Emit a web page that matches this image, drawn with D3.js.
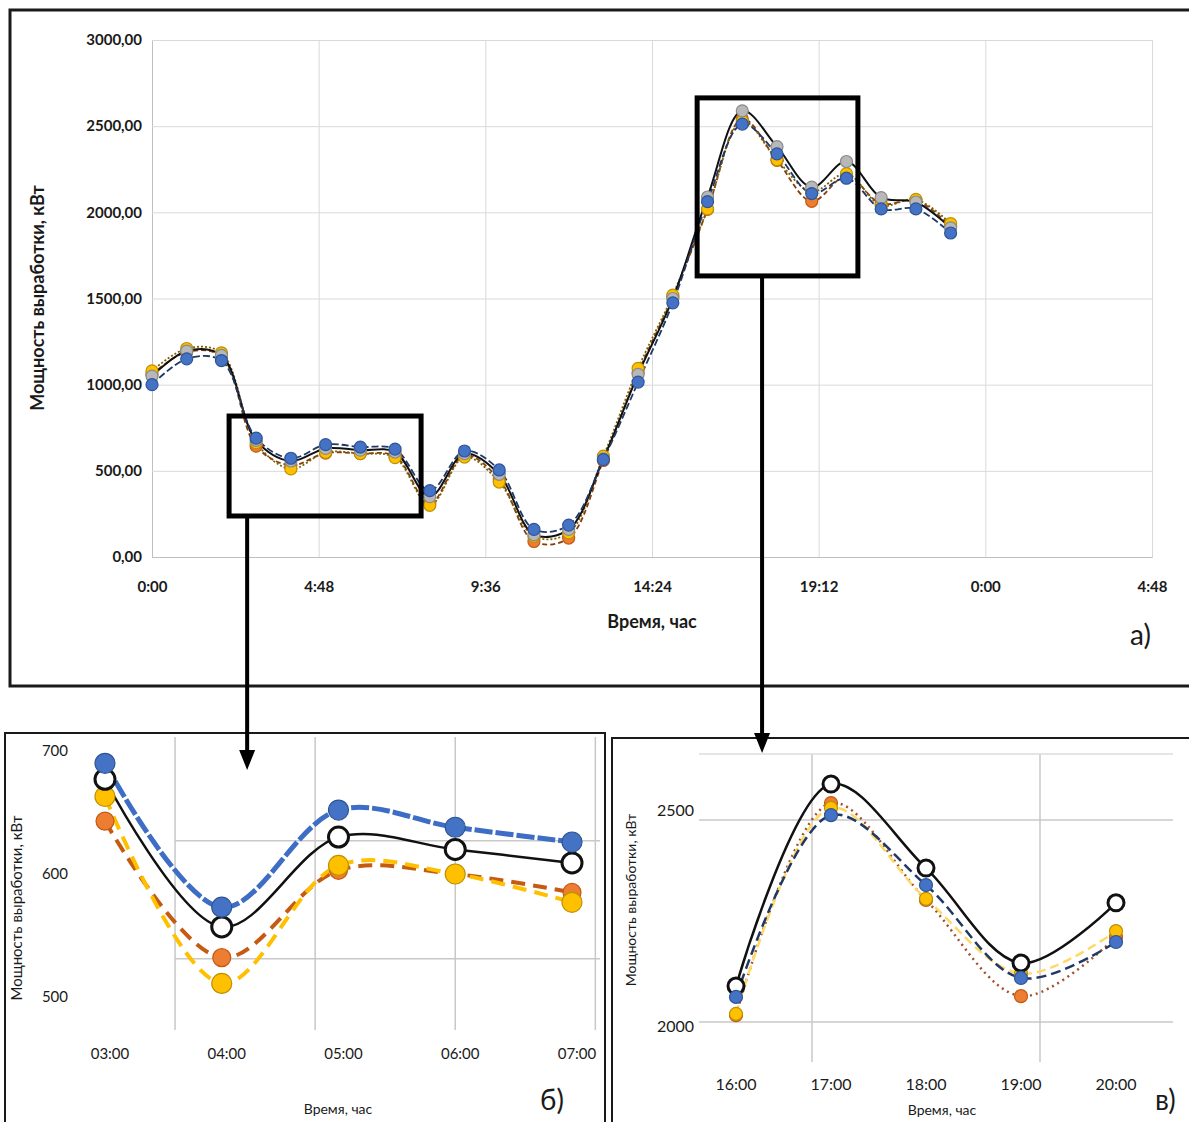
<!DOCTYPE html>
<html>
<head>
<meta charset="utf-8">
<script src="https://cdn.jsdelivr.net/npm/d3@7"></script>
<style>
  body { margin: 0; background: #fff; }
  svg { display: block; }
  text { font-family: Lato, "Open Sans", sans-serif; fill: #1a1a1a; }
</style>
</head>
<body>
<svg id="fig"></svg>
<script>
// hours of the day, one point per hour
const hours = [0,1,2,3,4,5,6,7,8,9,10,11,12,13,14,15,16,17,18,19,20,21,22,23];

// power output, kW
const factPower   = [1050,1195,1170,677,557,630,620,609,350,600,480,130,160,570,1060,1500,2089,2589,2381,2146,2295,2085,2060,1910];
const bluePower   = [1000,1150,1140,690,573,652,638,626,385,615,505,160,185,565,1015,1475,2062,2512,2339,2109,2198,2020,2020,1880];
const orangePower = [1060,1190,1165,643,532,603,600,585,310,590,450,90,110,560,1070,1510,2017,2542,2302,2064,2210,2050,2070,1920];
const yellowPower = [1080,1210,1185,663,511,607,600,577,300,580,435,120,140,585,1095,1520,2020,2530,2305,2120,2225,2040,2075,1935];

// axes
const mainXTicks = [0, 4.8, 9.6, 14.4, 19.2, 24, 28.8];
const mainXLabels = ["0:00","4:48","9:36","14:24","19:12","0:00","4:48"];
const mainYTicks = [0, 500, 1000, 1500, 2000, 2500, 3000];

const bHours = [3,4,5,6,7];
const bLabels = ["03:00","04:00","05:00","06:00","07:00"];
const bYTicks = [500, 600, 700];
const bXGrid = [3.6, 4.8, 6.0, 7.2];
const bYGrid = [627, 531];

const vHours = [16,17,18,19,20];
const vLabels = ["16:00","17:00","18:00","19:00","20:00"];
const vYTicks = [2000, 2500];
const vXGrid = [16.8, 19.2];

const W = 1189, H = 1122;
const svg = d3.select('#fig').attr('width', W).attr('height', H);

const fmt = d => d3.format(".2f")(d).replace('.', ',');

const series = [
    { key: 'orange', values: orangePower, fill: '#ED7D31', stroke: '#C55A11' },
    { key: 'yellow', values: yellowPower, fill: '#FFC000', stroke: '#BF9000' },
    { key: 'fact',   values: factPower,   fill: '#ffffff', stroke: '#111' },
    { key: 'blue',   values: bluePower,   fill: '#4472C4', stroke: '#2F5597' }
];

// line styles per panel
const styles = {
    main: {
        fact:   { color: '#111', width: 2, dash: null, r: 6, mFill: '#b8b8b8', mStroke: '#8a8a8a' },
        blue:   { color: '#1F3864', width: 1.8, dash: '7,3', r: 6 },
        orange: { color: '#843C0C', width: 1.8, dash: '5,3', r: 6 },
        yellow: { color: '#7F6000', width: 1.8, dash: '2,2', r: 6 }
    },
    b: {
        fact:   { color: '#111', width: 2.5, dash: null, r: 10, mw: 3 },
        blue:   { color: '#3D6DC4', width: 5, dash: '18,3', r: 10 },
        orange: { color: '#C55A11', width: 4, dash: '14,8', r: 9 },
        yellow: { color: '#FFC000', width: 4, dash: '14,8', r: 10 }
    },
    v: {
        fact:   { color: '#111', width: 2.5, dash: null, r: 8, mw: 3 },
        blue:   { color: '#1F3864', width: 2.5, dash: '10,5', r: 6.5 },
        orange: { color: '#A0522D', width: 2.5, dash: '2,4', r: 6.5 },
        yellow: { color: '#FFD966', width: 2.5, dash: '9,5', r: 6.5 }
    }
};

function plotPanel(g, xs, ys, idx, panel) {
    series.forEach(s => {
        const st = styles[panel][s.key];
        const line = d3.line()
            .x(i => xs(hours[i]))
            .y(i => ys(s.values[i]))
            .curve(d3.curveCatmullRom.alpha(0.5));
        g.append('path')
            .attr('d', line(idx))
            .attr('fill', 'none')
            .attr('stroke', st.color)
            .attr('stroke-width', st.width)
            .attr('stroke-dasharray', st.dash);
    });
    series.forEach(s => {
        const st = styles[panel][s.key];
        g.selectAll(null)
            .data(idx)
            .enter()
            .append('circle')
            .attr('cx', i => xs(hours[i]))
            .attr('cy', i => ys(s.values[i]))
            .attr('r', st.r)
            .attr('fill', st.mFill || s.fill)
            .attr('stroke', st.mStroke || s.stroke)
            .attr('stroke-width', st.mw || 1.2);
    });
}

// ---------- main chart (а) ----------
svg.append('rect')
    .attr('x', 10).attr('y', 10).attr('width', 1190).attr('height', 676)
    .attr('fill', 'none').attr('stroke', '#1a1a1a').attr('stroke-width', 3);

const mx = d3.scaleLinear().domain([0, 28.8]).range([152, 1152]);
const my = d3.scaleLinear().domain([0, 3000]).range([557, 40]);

const main = svg.append('g');

main.append('g')
    .attr('transform', `translate(0, ${my(0)})`)
    .call(d3.axisBottom(mx).tickValues(mainXTicks).tickSize(-(my(0) - my(3000))).tickFormat((d, i) => mainXLabels[i]))
    .call(g => g.select('.domain').attr('stroke', '#bfbfbf'))
    .call(g => g.selectAll('.tick line').attr('stroke', '#d9d9d9'))
    .call(g => g.selectAll('.tick text').attr('y', 24).attr('font-size', 15).attr('font-weight', 700).attr('fill', '#222'));

main.append('g')
    .attr('transform', `translate(${mx(0)}, 0)`)
    .call(d3.axisLeft(my).tickValues(mainYTicks).tickSize(-(mx(28.8) - mx(0))).tickFormat(fmt))
    .call(g => g.select('.domain').remove())
    .call(g => g.selectAll('.tick line').attr('stroke', '#d9d9d9'))
    .call(g => g.selectAll('.tick text').attr('x', -10).attr('font-size', 15).attr('font-weight', 700).attr('fill', '#222'));

main.selectAll('.tick line').filter(d => d === 0).attr('stroke', '#bfbfbf');

plotPanel(main, mx, my, hours.map((h, i) => i), 'main');

main.append('text')
    .attr('x', 652).attr('y', 628)
    .attr('text-anchor', 'middle')
    .attr('font-size', 18).attr('font-weight', 700)
    .text('Время, час');

main.append('text')
    .attr('transform', 'translate(44, 298) rotate(-90)')
    .attr('text-anchor', 'middle')
    .attr('font-size', 18).attr('font-weight', 700)
    .text('Мощность выработки, кВт');

main.append('text')
    .attr('x', 1130).attr('y', 645)
    .attr('font-size', 28)
    .text('а)');

// ---------- inset б ----------
svg.append('rect')
    .attr('x', 5).attr('y', 733).attr('width', 600).attr('height', 400)
    .attr('fill', 'none').attr('stroke', '#1a1a1a').attr('stroke-width', 2);

const bx = d3.scaleLinear().domain([3, 7]).range([105, 572]);
const by = d3.scaleLinear().domain([500, 700]).range([997, 751]);
const gb = svg.append('g');

gb.selectAll(null).data(bXGrid).enter().append('line')
    .attr('x1', d => bx(d)).attr('x2', d => bx(d))
    .attr('y1', 737).attr('y2', 1030)
    .attr('stroke', '#c8c8c8').attr('stroke-width', 1.5);
gb.selectAll(null).data(bYGrid).enter().append('line')
    .attr('x1', 175).attr('x2', 600)
    .attr('y1', d => by(d)).attr('y2', d => by(d))
    .attr('stroke', '#c8c8c8').attr('stroke-width', 1.5);

gb.selectAll(null).data(bYTicks).enter().append('text')
    .attr('x', 68).attr('y', d => by(d)).attr('dy', '0.35em')
    .attr('text-anchor', 'end').attr('font-size', 15)
    .text(d => d);
gb.selectAll(null).data(bHours).enter().append('text')
    .attr('x', (d, i) => bx(d) + 5).attr('y', 1059)
    .attr('text-anchor', 'middle').attr('font-size', 15)
    .text((d, i) => bLabels[i]);

plotPanel(gb, bx, by, bHours.map(h => hours.indexOf(h)), 'b');

gb.append('text')
    .attr('x', 338).attr('y', 1114).attr('text-anchor', 'middle')
    .attr('font-size', 14).text('Время, час');
gb.append('text')
    .attr('transform', 'translate(22, 908) rotate(-90)')
    .attr('text-anchor', 'middle').attr('font-size', 15)
    .text('Мощность выработки, кВт');
gb.append('text')
    .attr('x', 540).attr('y', 1110).attr('font-size', 28).text('б)');

// ---------- inset в ----------
svg.append('rect')
    .attr('x', 612).attr('y', 738).attr('width', 590).attr('height', 400)
    .attr('fill', 'none').attr('stroke', '#1a1a1a').attr('stroke-width', 2);

const vx = d3.scaleLinear().domain([16, 20]).range([736, 1116]);
const vy = d3.scaleLinear().domain([2000, 2500]).range([1022, 820]);
const gv = svg.append('g');

gv.selectAll(null).data(vXGrid).enter().append('line')
    .attr('x1', d => vx(d)).attr('x2', d => vx(d))
    .attr('y1', 754).attr('y2', 1062)
    .attr('stroke', '#c8c8c8').attr('stroke-width', 1.5);
gv.selectAll(null).data(vYTicks).enter().append('line')
    .attr('x1', 699).attr('x2', 1173)
    .attr('y1', d => vy(d)).attr('y2', d => vy(d))
    .attr('stroke', '#c8c8c8').attr('stroke-width', 1.5);
gv.append('line')
    .attr('x1', 699).attr('x2', 1173).attr('y1', 754).attr('y2', 754)
    .attr('stroke', '#dcdcdc').attr('stroke-width', 1.5);

gv.selectAll(null).data(vYTicks).enter().append('text')
    .attr('x', 694).attr('y', d => vy(d) - (d === 2500 ? 10 : -4)).attr('dy', '0.35em')
    .attr('text-anchor', 'end').attr('font-size', 16)
    .text(d => d);
gv.selectAll(null).data(vHours).enter().append('text')
    .attr('x', d => vx(d)).attr('y', 1090)
    .attr('text-anchor', 'middle').attr('font-size', 16)
    .text((d, i) => vLabels[i]);

plotPanel(gv, vx, vy, vHours.map(h => hours.indexOf(h)), 'v');

gv.append('text')
    .attr('x', 942).attr('y', 1115).attr('text-anchor', 'middle')
    .attr('font-size', 14).text('Время, час');
gv.append('text')
    .attr('transform', 'translate(636, 900) rotate(-90)')
    .attr('text-anchor', 'middle').attr('font-size', 14)
    .text('Мощность выработки, кВт');
gv.append('text')
    .attr('x', 1155).attr('y', 1110).attr('font-size', 28).text('в)');

// ---------- zoom boxes and arrows ----------
const boxes = [
    { h0: 2.22, h1: 7.75, v0: 238, v1: 818, arrowH: 2.74, tip: 770 },
    { h0: 15.7, h1: 20.33, v0: 1631, v1: 2664, arrowH: 17.57, tip: 753 }
];
boxes.forEach(b => {
    svg.append('rect')
        .attr('x', mx(b.h0)).attr('y', my(b.v1))
        .attr('width', mx(b.h1) - mx(b.h0)).attr('height', my(b.v0) - my(b.v1))
        .attr('fill', 'none').attr('stroke', '#000').attr('stroke-width', 5);
    const ax = mx(b.arrowH);
    svg.append('line')
        .attr('x1', ax).attr('x2', ax)
        .attr('y1', my(b.v0)).attr('y2', b.tip - 16)
        .attr('stroke', '#000').attr('stroke-width', 4);
    svg.append('path')
        .attr('d', `M${ax - 8},${b.tip - 20} L${ax + 8},${b.tip - 20} L${ax},${b.tip} Z`)
        .attr('fill', '#000');
});
</script>
</body>
</html>
